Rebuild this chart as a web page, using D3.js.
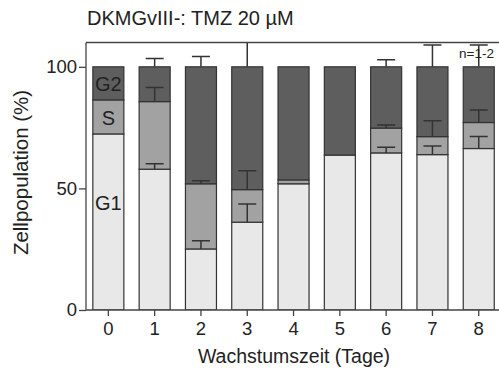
<!DOCTYPE html>
<html>
<head>
<meta charset="utf-8">
<script src="https://cdn.jsdelivr.net/npm/d3@7"></script>
<style>
  html, body { margin: 0; padding: 0; background: #fff; }
  svg { display: block; font-family: "Liberation Sans", Arial, sans-serif; }
</style>
</head>
<body>
<svg id="chart" width="499" height="381"></svg>
<script>
// Cell-cycle phase distribution (%) per day of growth
const days = ["0", "1", "2", "3", "4", "5", "6", "7", "8"];
const g1 = [72.4, 57.9, 25.1, 36.1, 51.9, 63.7, 64.6, 63.9, 66.4];
const sPhase = [14.0, 27.8, 26.8, 13.4, 1.6, 0, 10.2, 7.4, 10.7];
const g2 = [13.6, 14.3, 48.1, 50.5, 46.5, 36.3, 25.2, 28.7, 22.9];
// Standard deviations (upper whisker only)
const g1Err = [0, 2.2, 3.4, 7.5, 0, 0, 2.3, 3.5, 4.9];
const sErr = [0, 5.8, 1.3, 7.8, 0, 0, 1.3, 6.5, 5.1];
const g2Err = [0, 3.4, 4.2, 15, 0, 0, 2.9, 9, 9];
const yTicks = [0, 50, 100];
const phases = ["G1", "S", "G2"];

const colors = { G1: "#e8e8e8", S: "#a2a2a2", G2: "#5e5e5e" };
const ink = "#222";

const svg = d3.select("#chart");
const plotLeft = 86, plotBottom = 310, plotTop = 42.5, plotRight = 502;

const x = d3.scaleBand()
  .domain(days)
  .range([85.2, 85.2 + 9 * 46.3])
  .paddingInner(0.33)
  .paddingOuter(0.165);

const y = d3.scaleLinear().domain([0, 110]).range([plotBottom, plotTop]);

const rows = days.map((d, i) => ({
  day: d,
  segs: [
    { key: "G1", y0: 0, y1: g1[i], err: g1Err[i] },
    { key: "S", y0: g1[i], y1: g1[i] + sPhase[i], err: sErr[i] },
    { key: "G2", y0: g1[i] + sPhase[i], y1: g1[i] + sPhase[i] + g2[i], err: g2Err[i] }
  ]
}));

svg.append("defs").append("clipPath").attr("id", "plot")
  .append("rect").attr("x", plotLeft).attr("y", plotTop)
  .attr("width", plotRight - plotLeft).attr("height", plotBottom - plotTop);

const plot = svg.append("g").attr("clip-path", "url(#plot)");

// stacked bars
const bars = plot.selectAll("g.bar").data(rows).join("g").attr("class", "bar");
bars.selectAll("rect").data(d => d.segs.filter(s => s.y1 - s.y0 > 0).map(s => ({ ...s, day: d.day })))
  .join("rect")
  .attr("x", d => x(d.day))
  .attr("width", x.bandwidth())
  .attr("y", d => y(d.y1))
  .attr("height", d => y(d.y0) - y(d.y1))
  .attr("fill", d => colors[d.key])
  .attr("stroke", "#333")
  .attr("stroke-width", 1.2);

// upper error whiskers
const capW = 18;
const errs = [];
rows.forEach(r => r.segs.forEach(s => { if (s.err > 0) errs.push({ day: r.day, v: s.y1, e: s.err }); }));
const eg = plot.selectAll("g.err").data(errs).join("g").attr("class", "err")
  .attr("stroke", "#333").attr("stroke-width", 1.5);
eg.append("line")
  .attr("x1", d => x(d.day) + x.bandwidth() / 2)
  .attr("x2", d => x(d.day) + x.bandwidth() / 2)
  .attr("y1", d => y(d.v))
  .attr("y2", d => y(d.v + d.e));
eg.append("line")
  .attr("x1", d => x(d.day) + x.bandwidth() / 2 - capW / 2)
  .attr("x2", d => x(d.day) + x.bandwidth() / 2 + capW / 2)
  .attr("y1", d => y(d.v + d.e))
  .attr("y2", d => y(d.v + d.e));

// frame top edge
svg.append("line").attr("x1", plotLeft).attr("x2", plotRight).attr("y1", plotTop).attr("y2", plotTop)
  .attr("stroke", "#444").attr("stroke-width", 1.3);

// axes
const yAxis = svg.append("g").attr("transform", `translate(${plotLeft},0)`)
  .call(d3.axisLeft(y).tickValues(yTicks).tickSize(7).tickPadding(2));
const xAxis = svg.append("g").attr("transform", `translate(0,${plotBottom})`)
  .call(d3.axisBottom(x).tickSize(6).tickPadding(6));
[yAxis, xAxis].forEach(a => {
  a.select(".domain").attr("stroke", "#444").attr("stroke-width", 1.3);
  a.selectAll(".tick line").attr("stroke", "#444").attr("stroke-width", 1.3);
  a.selectAll(".tick text").attr("fill", ink).attr("font-size", 18.5)
    .attr("font-family", "'Liberation Sans', Arial, sans-serif");
});
// y axis line runs up to the frame top
yAxis.select(".domain").attr("d", `M0,${plotBottom}V${plotTop}`);
xAxis.select(".domain").attr("d", `M${plotLeft},0H${plotRight}`);

// phase labels inside the first bar
const cx0 = x(days[0]) + x.bandwidth() / 2;
const phaseLabelY = { G2: 90.5, S: 125, G1: 210 };
svg.selectAll("text.phase").data(phases).join("text").attr("class", "phase")
  .attr("x", cx0).attr("y", d => phaseLabelY[d])
  .attr("text-anchor", "middle").attr("font-size", 20).attr("fill", ink)
  .text(d => d);

// titles
svg.append("text").attr("x", 87).attr("y", 25).attr("font-size", 20).attr("fill", ink)
  .text("DKMGvIII-: TMZ 20 µM");
svg.append("text").attr("x", 294).attr("y", 363).attr("text-anchor", "middle")
  .attr("font-size", 19.5).attr("fill", ink).text("Wachstumszeit (Tage)");
svg.append("text").attr("transform", "translate(28,172.5) rotate(-90)").attr("text-anchor", "middle")
  .attr("font-size", 20.5).attr("fill", ink).text("Zellpopulation (%)");
svg.append("text").attr("x", 459).attr("y", 58).attr("font-size", 13.5).attr("fill", ink)
  .text("n=1-2");
</script>
</body>
</html>
